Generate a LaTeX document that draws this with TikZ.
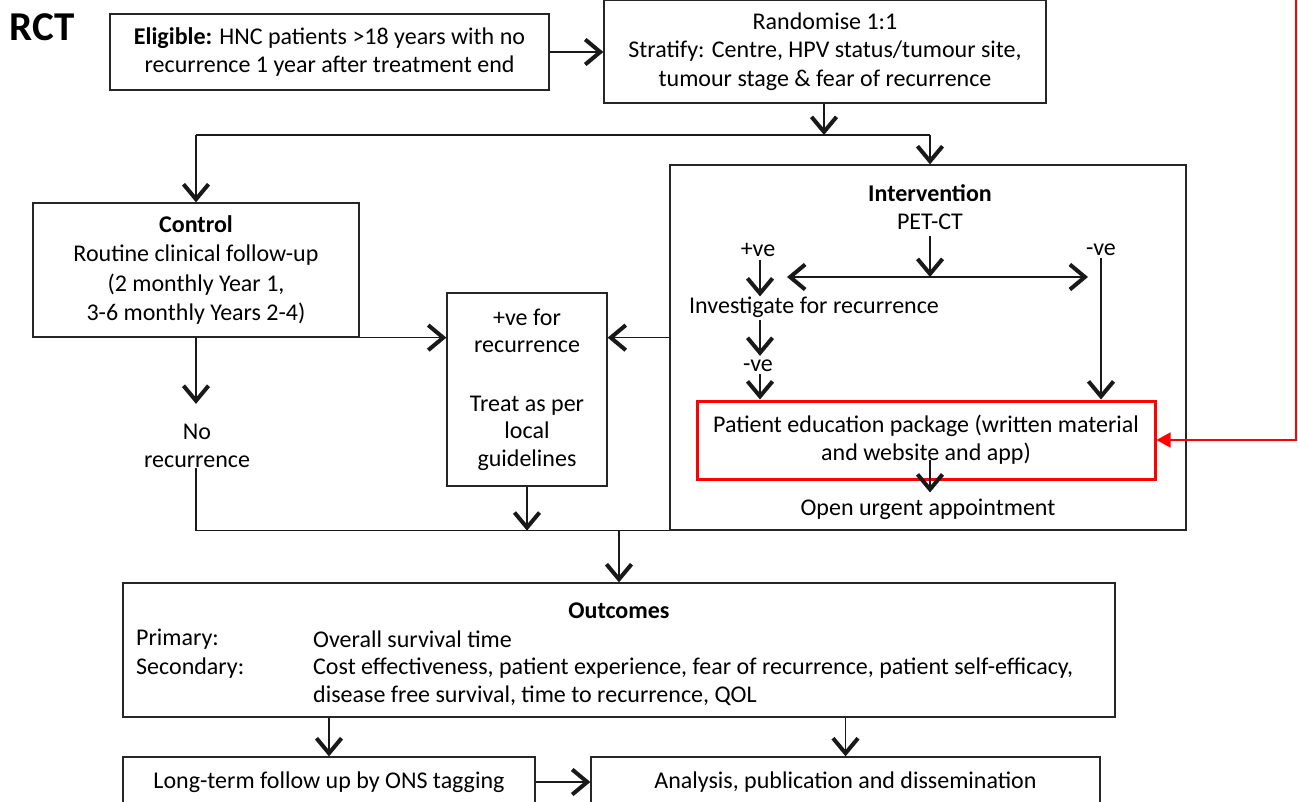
\documentclass[tikz,border=0pt]{standalone}
\usepackage{fontspec}
\setmainfont{Carlito}
\usetikzlibrary{arrows.meta}
\begin{document}
\begin{tikzpicture}[x=1pt,y=-1pt,
  font=\fontsize{24}{28.3}\selectfont,
  box/.style={draw=black!85, line width=1.3pt, align=center, inner sep=0pt},
  txt/.style={align=center, inner sep=0pt},
  ln/.style={line width=1.3pt, draw=black!90},
  arr/.style={ln, -{Straight Barb[length=15pt,width=25pt,line width=4pt]}},
  dblarr/.style={ln, {Straight Barb[length=15pt,width=25pt,line width=4pt]}-{Straight Barb[length=15pt,width=25pt,line width=4pt]}},
  redarr/.style={draw=red, line width=1.6pt, -{Triangle[length=14pt,width=15pt]}}]
\useasboundingbox (0,0) rectangle (1298,801);
\clip (0,0) rectangle (1298,801);

% title
\node[txt, font=\fontsize{41}{44}\selectfont\bfseries] (rct) at (42,27) {RCT};

% top row
\node[box, minimum width=439pt, minimum height=76pt] (elig) at (329.5,52)
  {\textbf{Eligible:} HNC patients >18 years with no\\recurrence 1 year after treatment end};
\node[box, minimum width=442pt, minimum height=103pt] (rand) at (825,51.5)
  {Randomise 1:1\\Stratify: Centre, HPV status/tumour site,\\tumour stage \& fear of recurrence};
\draw[arr] (elig.east) -- (rand.west |- elig.east);

% arms
\node[box, minimum width=326pt, minimum height=134pt, font=\fontsize{24}{29.3}\selectfont] (ctrl) at (196,270)
  {\textbf{Control}\\Routine clinical follow-up\\(2 monthly Year 1,\\3-6 monthly Years 2-4)};
\node[box, minimum width=516pt, minimum height=365pt] (int) at (928,347.5) {};
\node[box, minimum width=160pt, minimum height=193pt, font=\fontsize{24}{27.5}\selectfont] (pos) at (527,389.5)
  {+ve for\\recurrence\\[31pt]Treat as per\\local\\guidelines};

\coordinate (split) at (824,135);
\coordinate (bl) at (ctrl.north |- split);
\coordinate (br) at (930,135);
\draw[arr] (rand.south -| split) -- (split);
\draw[ln] (bl) -- (br);
\draw[arr] (bl) -- (ctrl.north);
\draw[arr] (br) -- (br |- int.north);

\draw[arr] (ctrl.south east) -- (ctrl.south east -| pos.west);
\draw[arr] (int.west |- ctrl.south east) -- (pos.east |- ctrl.south east);

\node[txt] (norec) at (197,446) {No\\recurrence};
\draw[arr] (ctrl.south) -- ([yshift=20pt]norec.north -| ctrl.south);
\draw[ln] (norec.south -| ctrl.south) -- (ctrl.south |- int.south) -- (int.south west);
\draw[arr] (pos.south) -- (pos.south |- int.south);

% intervention contents
\node[txt] (ih) at (930,207) {\textbf{Intervention}\\PET-CT};
\coordinate (hs) at (930,277);
\draw[arr] ([yshift=-6pt]ih.south) -- (hs);
\coordinate (hl) at (787,277);
\coordinate (hr) at (1088,277);
\draw[dblarr] (hl) -- (hr);
\node[txt] (pv) at (758,250) {+ve};
\node[txt] (nv1) at (1101,250) {-ve};
\node[txt] (inv) at (814,307) {Investigate for recurrence};
\node[txt] (nv2) at (758,366) {-ve};
\node[box, draw=red, line width=3pt, minimum width=458pt, minimum height=78pt] (peb) at (926,440)
  {Patient education package (written material\\and website and app)};
\node[txt] (oua) at (928,509) {Open urgent appointment};

\draw[arr] ([yshift=-3pt]pv.south -| 760,0) -- (760,0 |- inv.north);
\draw[arr] ([yshift=-2pt]inv.south -| 760,0) -- ([yshift=4pt]nv2.north -| 760,0);
\draw[arr] ([yshift=-2pt]nv2.south -| 760,0) -- (760,0 |- peb.north);
\draw[arr] ([yshift=-2pt]nv1.south) -- (nv1.south |- peb.north);
\coordinate (pebin) at (930,460);
\draw[arr] (pebin) -- ([yshift=6pt]oua.north -| pebin);

% red feedback connector
\coordinate (rtop) at (1296,0);
\coordinate (rturn) at (1296,440);
\draw[redarr] (rtop) -- (rturn) -- (peb.east);

% outcomes
\node[box, minimum width=992pt, minimum height=134pt] (out) at (619,650) {};
\draw[arr] (out.north |- int.south) -- (out.north);
\node[txt] (oh) at (619,611) {\textbf{Outcomes}};
\node[txt, anchor=west] (prim) at (136,639) {Primary:};
\node[txt, anchor=west] (primt) at (313,639) {Overall survival time};
\node[txt, anchor=west] (sec) at (136,668) {Secondary:};
\node[txt, anchor=west, align=left] (sect) at (313,682)
  {Cost effectiveness, patient experience, fear of recurrence, patient self-efficacy,\\disease free survival, time to recurrence, QOL};

% bottom row
\node[box, minimum width=412pt, minimum height=50pt] (ons) at (329,782) {Long-term follow up by ONS tagging};
\node[box, minimum width=509pt, minimum height=50pt] (ana) at (845.5,782) {Analysis, publication and dissemination};
\draw[arr] (out.south -| ons.north) -- (ons.north);
\draw[arr] (out.south -| ana.north) -- (ana.north);
\draw[arr] (ons.east) -- (ana.west);
\end{tikzpicture}
\end{document}
